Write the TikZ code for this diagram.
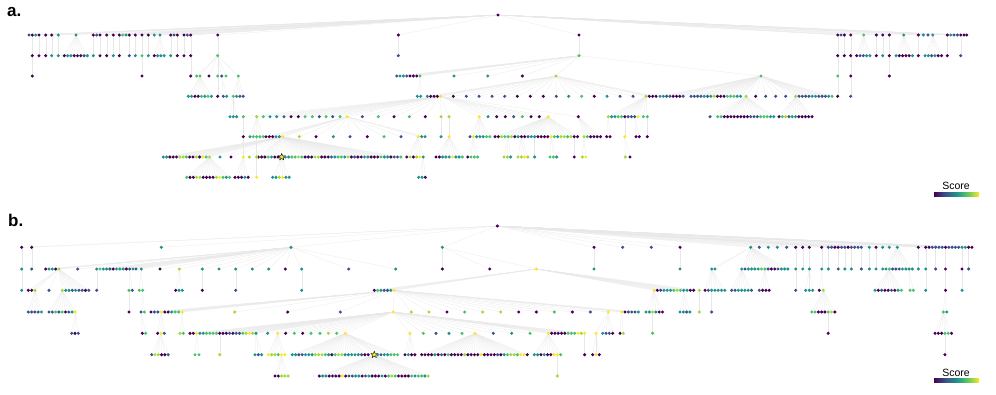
\documentclass[tikz,border=0pt]{standalone}
\usepackage{fontspec}
\setmainfont{Liberation Sans}
\usepackage{tikz}
\usetikzlibrary{positioning,shapes.geometric}
\definecolor{v0}{HTML}{440154}
\definecolor{v1}{HTML}{3B528B}
\definecolor{v2}{HTML}{21918C}
\definecolor{v3}{HTML}{4AC16D}
\definecolor{v4}{HTML}{A0DA39}
\definecolor{v5}{HTML}{FDE725}
\definecolor{vbar}{HTML}{5EC962}
\pgfdeclarehorizontalshading{viridis}{100bp}{color(0bp)=(v0); color(25bp)=(v0); color(37.5bp)=(v1); color(50bp)=(v2); color(62.5bp)=(vbar); color(75bp)=(v5); color(100bp)=(v5)}
\newif\ifedges
\newcommand{\treeroot}[4]{\ifedges\coordinate (#1) at (#2,#3);\else\node[dot,fill=v#4] (#1) at (#2,#3) {};\fi}
\newcommand{\treestar}[4]{\ifedges\coordinate (#1) at (#3,#4);\draw[edge] (#2) -- (#1);\else\node[starnode] (#1) at (#3,#4) {};\fi}
\newcommand{\treefan}[4]{\foreach \x/\cl [count=\k] in {#4}{\ifedges\coordinate (#1-\k) at (\x,#3);\draw[edge] (#2) -- (#1-\k);
  \else\node[dot,fill=v\cl] (#1-\k) at (\x,#3) {};\fi}}
\newcommand{\treerun}[5]{\foreach \cl [count=\k] in {#5}{\ifedges\coordinate (#1-\k) at ({#4+3.3*(\k-1)},#3);\draw[edge] (#2) -- (#1-\k);
  \else\node[dot,fill=v\cl] (#1-\k) at ({#4+3.3*(\k-1)},#3) {};\fi}}
\newcommand{\treedown}[2]{\path (0,#1) coordinate (rowtmp);
  \foreach \p/\cl in {#2}{\ifedges\coordinate (\p-d) at (\p |- rowtmp);\draw[edge] (\p) -- (\p-d);
  \else\node[dot,fill=v\cl] (\p-d) at (\p |- rowtmp) {};\fi}}

\begin{document}
\begin{tikzpicture}[
    x=1pt, y=-1pt,
    dot/.style={circle, inner sep=0pt, minimum size=3.4pt, draw=none},
    edge/.style={draw=black!9, line width=0.25pt},
    starnode/.style={star, star points=5, star point ratio=2.3, inner sep=0pt, minimum size=7pt, fill=v5, draw=black, line width=0.4pt},
    lbl/.style={font=\fontsize{17}{17}\selectfont\bfseries, inner sep=0pt, anchor=base west},
    score/.style={font=\fontsize{10.5}{12}\selectfont, inner sep=0pt},
    cbar/.style={rectangle, inner sep=0pt, minimum width=45pt, minimum height=4.4pt, shading=viridis}
]
\useasboundingbox (0,0) rectangle (996,394);

\node[lbl] (la) at (7,16) {a.};
\node[lbl] (lb) at (8,226) {b.};
\node[score] (sa) at (956,186) {Score};
\node[cbar] (ca) at (956.5,194.5) {};
\node[score] (sb) at (956,372.5) {Score};
\node[cbar] (cb) at (956.5,380.5) {};

\foreach \pass in {1,2}{
\ifnum\pass=1\relax\global\edgestrue\else\global\edgesfalse\fi
% panel a
\treeroot{aR}{498}{15}{0}
\treefan{a1}{aR}{35}{29/1,32.3/0,35.7/2,39/0,45.7/0,51.7/0,58.3/2,76/2,93.3/0,96.7/1,100/0,106.7/0,113.3/0,119.3/0,122.7/3,126/2,129.3/0,135.3/0,142/0,148.3/0,154.3/2,160/2,170.7/0,174/1,177.3/0,184/0,187.3/1,190.7/0,217.7/0,398.3/0,579/0,837.7/0,841/1,844.3/0,850.7/0,863.7/3,876.3/0,882.7/0,889.3/0,903.7/2,918.3/0,923.3/2,928/1,932.7/2,947.3/0,950.7/2,954/1,957.3/1,960.7/0,964/0,966.7/0}

\treedown{55.7}{a1-2/0,a1-4/0,a1-5/0,a1-6/2,a1-7/2,a1-9/2,a1-11/0,a1-12/0,a1-13/2,a1-14/0,a1-17/1,a1-18/2,a1-19/3,a1-20/2,a1-23/2,a1-25/0,a1-26/0,a1-28/0,a1-29/3,a1-30/1,a1-31/3,a1-32/0,a1-34/0,a1-35/0,a1-37/0,a1-38/2,a1-39/0,a1-41/0,a1-45/0,a1-49/1}
\treerun{a2p}{a1-8}{55.7}{64.3}{0,2,2,0,0,0,1,2}
\treerun{a2q}{a1-22}{55.7}{154.3}{0,2,2,2}
\treerun{a2r}{a1-36}{55.7}{856.7}{0,1,1,2,2}
\treerun{a2s}{a1-40}{55.7}{896}{2,0,0,0,0,2}
\treerun{a2t}{a1-44}{55.7}{925}{2,2,1,2,0,0}

\treedown{76}{a1-2-d/0,a1-19-d/0,a1-28-d/0,a1-32-d/3,a1-35-d/0,a1-39-d/0}
\treefan{a3f}{a1-29-d}{76}{196.7/3,200/3,209/0,217.7/3,221.7/1,226/3,238.3/3}
\treefan{a3m}{a1-31-d}{76}{396.7/1,400/2,403.3/2,406.7/1,410/0,413.3/0,416.7/0,420/3,454/2,487.7/2,522.3/0,556/4,761/3}

\treerun{a4a}{a3f-2}{96.3}{188.3}{2,2,0,0,3,2,3,2}
\treedown{96.3}{a3f-4/0,a1-32-d-d/0,a1-35-d-d/1}
\treefan{a4b}{a3f-5}{96.3}{223.3/1,226.7/2}
\treerun{a4g}{a3f-7}{96.3}{233.3}{3,2,1,1}
\treefan{a4c}{a3m-8}{96.3}{417.3/2,420.7/2}
\treefan{a4h}{a3m-12}{96.3}{427.3/2,430.7/0,434/0,437.3/0,440.7/5,453.3/0,466.3/1,479/1,492/1,504.7/1,517.3/0,530.3/0,543.3/0,556.3/1,568.7/2,581.7/3,594.3/0,607/2,620/1,633/1,646/4,649.3/0,652.7/0,656/0}
\treerun{a4r}{a3m-13}{96.3}{660}{2,2,1,1,0,0,0,1}
\treerun{a4s}{a3m-13}{96.3}{691}{1,1,1,1,2,1,2,4,0,0,0,3,3,3,2,2}
\treefan{a4t}{a3m-13}{96.3}{746/4,755.7/0,765.7/1,775.7/1,785.7/1,795.7/4}
\treerun{a4u}{a3m-13}{96.3}{799}{1,1,1,1,2,2,1,1,1,2,3}

\treerun{a5a}{a4g-1}{116.7}{230}{2,2,2}
\treefan{a5h}{a4h-5}{116.7}{243.3/3,256.7/4,263.3/3,270/2,276.7/2,284/1,291/0,298.3/0,305/3,312.3/3,319.3/1,326/3,332.7/1,340/3,347.3/5,362.3/1,378.3/3,394/0,409.3/3,425.3/0,441/4,449/4,479.3/5,488/2,496.7/0,505.3/0,513.7/1,522.3/3,531/0,539.3/0,548.3/5,578.3/0}
\treerun{a5k}{a4h-21}{116.7}{608.3}{4,2,2,3,3,0,1,1,1,5}
\treefan{a5l}{a4h-21}{116.7}{643.3/3,647.3/3}
\treefan{a5r}{a4t-1}{116.7}{710/1}
\treerun{a5s}{a4t-1}{116.7}{717.7}{3,3,0,0,0,0,0,0,0,0,1,1,1,3,3,3,2,2}
\treerun{a5t}{a4t-6}{116.7}{779}{0,3,4,1,2,2,0,0,0,0,0}

\treedown{136.7}{a5h-1/0,a5h-21/2,a5h-22/5,a5l-2/0,a5k-6/5}
\treerun{a6b}{a5h-2}{136.7}{250}{2,3,3,3,3}
\treefan{a6h}{a5h-15}{136.7}{266/0,269.3/0,272.7/0,276/2,279.3/2,282.7/5,299.3/4,316/0,333.3/2,350/1,367.3/0,384/3,401/1,418.3/5,421.7/2,425/2}
\treerun{a6y}{a5h-23}{136.7}{470}{1,5,2,2,2,3,3}
\treerun{a6z}{a5h-31}{136.7}{495}{0,0,4,3,3,4,0,2,0,0,1,2,2,0,0,0,0,5,3,2,4,4,3,4,0,0}
\treerun{a6w}{a5h-32}{136.7}{584}{4,3,0,0,0,0}
\treefan{a6k}{a5k-1}{136.7}{606.7/0,610/0}
\treefan{a6m}{a5k-9}{136.7}{636/0,639.3/0}

\treerun{a7a}{a6h-6}{157}{163.3}{2,2,0,0,0,4,4,3,0,0,4,0,5,3,4}
\treefan{a7b}{a6h-6}{157}{220/2,231/0,249.3/4}
\treerun{a7c}{a6h-6}{157}{258.3}{0,0,0,3,2,0,0}
\treestar{astar}{a6h-6}{281.7}{157}
\treerun{a7d}{a6h-6}{157}{285.3}{2,2,3,3,4,3,0,0,0,4,4,0,0,0,1,2,3,3,2,4,0,1,0,0,2,2,0,0,0,3,2,2,0,1,1,3}
\treedown{157}{a5h-1-d/5,a6b-3/4,a6z-13/2,a6z-25/0}
\treerun{a7e}{a6h-14}{157}{406.7}{0,4,0,4,5,2}
\treerun{a7f}{a5h-22-d}{157}{436}{0,0,2,2,2,5,2,2,3}
\treerun{a7g}{a6y-2}{157}{467.7}{0,3,3,3}
\treerun{a7h}{a6z-5}{157}{504}{4,4,2}
\treerun{a7i}{a6z-9}{157}{518}{4,4,5,4}
\treerun{a7j}{a6z-18}{157}{550}{3,3,2}
\treefan{a7k}{a6w-1}{157}{582.3/4,585.7/5}
\treefan{a7m}{a5k-6-d}{157}{625.3/4,630/0}

\treerun{a8a}{a7a-15}{177.3}{186.7}{3,0,0,4,4,0,0,0,0,4,5,3,2,3}
\treerun{a8b}{a5h-1-d-d}{177.3}{235}{0,0,0,2,0}
\treedown{177.3}{a6b-3-d/5}
\treerun{a8c}{astar}{177.3}{272.7}{2,2,4,5,2,2}
\treerun{a8d}{a7e-6}{177.3}{418.7}{2,2,0}

% panel b
\treeroot{bR}{497.3}{226}{0}
\treefan{b1}{bR}{247.3}{21.7/0,31.7/0,161.3/2,291/2,442.3/2,594/0,622.7/1,651.3/1,680/0,750.7/2,759.3/1,768.3/2,777.3/2,786.7/1,795.7/0,802.7/0,809.3/0,821.7/0}
\treerun{b1r}{bR}{247.3}{828.3}{1,1,0,0,1,1,0,1,1,1,1}
\treefan{b1b}{bR}{247.3}{869.3/2,876/0,882.7/2,889.3/2,897.3/2,918.3/0}
\treerun{b1s}{bR}{247.3}{925.7}{0,0,1,1,1,1,0,1,1,1,1,2,2,0,0}

\treedown{269}{b1-1/2,b1-2/1,b1-5/0,b1-6/2,b1-9/2,b1-15/2,b1-16/2,b1-17/2,b1-18/2,b1r-1/2,b1r-4/1,b1r-6/2,b1r-8/2,b1r-11/1,b1b-1/2,b1b-2/2,b1b-6/2,b1s-1/2,b1s-4/1,b1s-7/0,b1s-12/0,b1s-14/1}
\treefan{b2h}{b1-4}{269}{45.7/0,49/2,52.3/2,55.7/0,59/4,77.7/1,136/1,141.3/2,160/0,179.3/4,202.3/2,219/2,235.7/2,252.3/2,268.7/2,285.3/0,301.7/2,348.7/1,395.7/2}
\treerun{b2r}{b1-4}{269}{96.7}{2,3,2,2,1,0,2,2,2,0,1,2}
\treefan{b2m}{b1-5}{269}{489.7/0,536.3/5}
\treefan{b2u}{b1-10}{269}{711.7/2,715/2}
\treerun{b2v}{b1-10}{269}{741.7}{2,1,2,2,2,2,3,3,1,0,0,1,2,2,2}
\treerun{b2w}{b1b-5}{269}{882.7}{2,2,3,1,1,1,2,2,2,2}

\treedown{290.3}{b1-1-d/2,b2r-1/1,b2h-11/0,b2h-13/1,b2h-17/2,b1-15-d/1,b1s-1-d/2,b1s-7-d/0,b1s-12-d/2}
\treefan{b3l}{b2h-5}{290.3}{28.3/0,31.7/0,35/4,49/1,62.3/4}
\treerun{b3m}{b2h-5}{290.3}{65.7}{2,2,1,2,1,1,0,1}
\treefan{b3a}{b2r-11}{290.3}{129/3,132.3/1}
\treefan{b3b}{b2h-8}{290.3}{139.3/3,142.7/3}
\treefan{b3c}{b2h-10}{290.3}{175.7/0,179/2,182.3/2}
\treerun{b3y}{b2m-2}{290.3}{374.3}{0,3,2,1,1,2,5}
\treerun{b3z}{b2m-2}{290.3}{654}{5,0,1,2,2,2,3,4,3,2,2,0,0}
\treefan{b3w}{b2m-2}{290.3}{699.3/4}
\treerun{b3u}{b2u-1}{290.3}{705}{0,1,2,2,2,2,2}
\treerun{b3v}{b2v-1}{290.3}{731.7}{1,1,2,2,2,2,1}
\treerun{b3x}{b2v-8}{290.3}{759.3}{1,0,0,0}
\treefan{b3p}{b1-17-d}{290.3}{805.7/2,809.3/2,812.7/2}
\treefan{b3q}{b1-18-d}{290.3}{819.3/0,823.3/4}
\treerun{b3k}{b2w-3}{290.3}{875}{2,0,1,0,0,1,0,2,3}
\treefan{b3n}{b2w-9}{290.3}{910/3,913.3/3}

\treerun{b4a}{b3l-3}{312}{28.3}{1,1,1,1,2}
\treerun{b4l}{b3l-5}{312}{49}{1,1,3,1,3,0,1,2,5}
\treedown{312}{b3a-1/0,b3w-1/4,b3u-3/1}
\treefan{b4s}{b1s-7-d-d}{312}{943.3/3,946.7/2}
\treefan{b4b}{b3b-2}{312}{141/1,144.3/3}
\treefan{b4h}{b3y-7}{312}{151/0,154.4/1,157.9/1,161.3/5,164.8/0,168.2/0,171.7/2,175.1/3,178.6/3,182.3/5,234.7/4,287.7/0,340.3/1,393.3/5,411.3/4,429/4,447/0,464.7/3,482.7/4,500.7/4,518.7/0,536.3/0,554.3/3,572.3/0,590.3/1,608.3/5,621.7/5,625/0,628.3/1,631.7/1,635/1,638.3/2}
\treerun{b4z}{b3z-1}{312}{646}{2,2,4,2,0,0}
\treerun{b4c}{b3z-10}{312}{680}{2,2,1,2}
\treerun{b4q}{b3q-2}{312}{811.7}{3,3,0,0,0,3,4,0}

\treerun{b5l}{b4l-9}{333.3}{71.7}{1,0,1}
\treefan{b5b}{b4b-1}{333.3}{142.3/0,145.7/3}
\treefan{b5c}{b4h-4}{333.3}{157.7/0,161/5,164.3/1}
\treefan{b5d}{b4h-10}{333.3}{180/4,183.3/3}
\treerun{b5a}{b4h-14}{333.3}{190}{0,0,5,2,2,3,3,3,3,0,0,0,1,0,1,1,3,4,5,4,2}
\treefan{b5h}{b4h-14}{333.3}{267.7/2,277.7/5,285.7/0,294.3/3,302.7/0,311/3,320/3,328.3/4,336.7/3,345.3/5,410/5,423.3/3,436/1,449/2,462/3,475/5,493.3/1,511.7/2,530/3}
\treerun{b5k}{b4h-14}{333.3}{548.3}{5,0,0,0,0,0,3,3,3,5,4,5}
\treefan{b5m}{b4h-26}{333.3}{596/5,602.7/2,606/1,609.3/1,612.7/0}
\treefan{b5n}{b4h-27}{333.3}{620/0,623.3/4}
\treedown{333.3}{b4z-3/3,b4q-6/0}
\treerun{b5s}{b4s-1}{333.3}{935}{0,0,0,3,3,0}

\treerun{b6c}{b5c-2}{354.7}{151.7}{1,4,4,0,0,1}
\treefan{b6a}{b5a-3}{354.7}{195/3,199/3}
\treedown{354.7}{b5a-10/4,b5k-12/0,b5s-4/0}
\treerun{b6b}{b5a-21}{354.7}{255}{2,1,2}
\treerun{b6e}{b5h-2}{354.7}{268.3}{5,4,4,3,5,5}
\treerun{b6s}{b5h-10}{354.7}{292.3}{2,2,1,1,2,2,2,4,4,4,3,2,0,3,4,4,2,2,2,2,2,1,0,0}
\treestar{bstar}{b5h-10}{374.3}{354.7}
\treerun{b6t}{b5h-10}{354.7}{377.7}{2,1,2,2,3,3,3}
\treerun{b6u}{b5h-11}{354.7}{405}{0,2,0,0}
\treerun{b6v}{b5h-16}{354.7}{421.7}{0,0,0,0,2,0,1,0,3,0,0,0,0,4,0,0,0,0,5,0,0,0,0,1,0,2,3,4,4,3,5,5,0}
\treerun{b6k}{b5k-1}{354.7}{534.3}{2,2,0,2,0,0,5,5,3}
\treerun{b6m}{b5m-1}{354.7}{592.7}{0,5,0}

\treerun{b7e}{b6e-5}{376}{275}{0,0,4,4,4}
\treerun{b7s}{bstar}{376}{319.3}{0,2,2,0,0,0,0,5,0,1,1,2,2,0,1,2,0,0,0,2,0,3,4,3,0,0,0,0,3,2,3,3,2,4}
\treedown{376}{b6k-8/4}
}
\end{tikzpicture}
\end{document}
